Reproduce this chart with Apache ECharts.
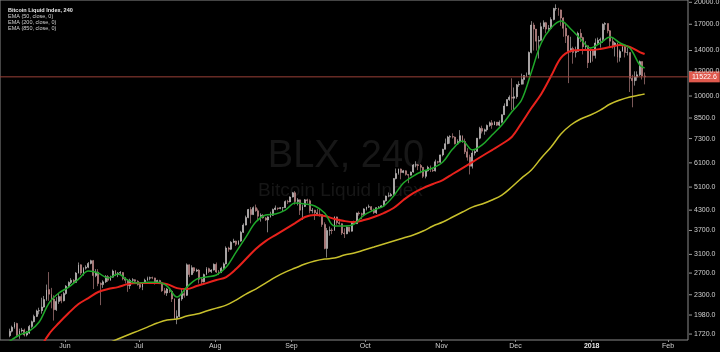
<!DOCTYPE html>
<html><head><meta charset="utf-8">
<script src="https://cdn.jsdelivr.net/npm/echarts@6/dist/echarts.min.js"></script>
<style>html,body{margin:0;padding:0;background:#000}#c{width:720px;height:352px}</style>
</head><body><div id="c"></div>
<script>
// ---- data (Bitcoin Liquid Index, daily candles) ----
const candleStart = '2017-05-09';
const opens = [
 1700,1756,1808,1860,1705,1760,1772,1708,1732,1820,1885,1960,2040,2045,2100,2220,2390,2310,2230,2060,2190,2270,2200,
 2320,2450,2520,2560,2520,2700,2870,2700,2800,2820,2900,2960,2650,2720,2500,2480,2530,2630,2560,2620,2740,2670,2700,2710,2590,2560,2460,2560,2570,2540,
 2480,2430,2500,2560,2600,2610,2605,2500,2555,2510,2370,2330,2400,2360,2230,1930,1960,2230,2320,2290,2870,2670,2810,2740,2760,2580,2530,2670,2790,2730,2760,
 2880,2720,2710,2800,2890,3250,3220,3390,3420,3340,3420,3650,3850,4070,4320,4160,4380,4280,4110,4140,4060,4000,4090,4140,4320,4370,4350,4380,4380,4580,4570,
 4740,4890,4580,4640,4300,4420,4640,4610,4280,4300,4220,4180,4160,3870,3240,3700,3710,3700,4090,3920,3890,3630,3610,3790,3680,3930,3890,4210,4190,4160,
 4340,4400,4410,4310,4220,4380,4400,4440,4610,4770,4780,4830,5430,5640,5830,5680,5750,5600,5570,5700,6000,6010,5980,5900,5520,5750,5900,5780,5750,6150,6130,
 6470,6740,7030,7380,7410,7380,7020,7140,7460,7140,6620,6360,5950,6560,6640,7320,7870,7710,7790,8040,8200,8070,8250,8060,8240,8710,9290,9740,9910,9840,
 9950,10860,10910,11290,11640,11720,13800,16900,16400,15000,15100,16700,17200,16400,16500,17600,19100,19100,18900,17800,16500,15600,13900,14200,13800,13900,15900,15400,14400,14500,12800,
 14100,13500,14800,15100,15200,17000,17100,16200,15000,14500,14800,13300,13900,14400,13800,13800,11400,11200,11500,11700,12900,11600
];
const closes = [
 1756,1808,1860,1705,1760,1772,1708,1732,1820,1885,1960,2040,2045,2100,2220,2390,2310,2230,2060,2190,2270,2200,2320,
 2450,2520,2560,2520,2700,2870,2700,2800,2820,2900,2960,2650,2720,2500,2480,2530,2630,2560,2620,2740,2670,2700,2710,2590,2560,2460,2560,2570,2540,2480,
 2430,2500,2560,2600,2610,2605,2500,2555,2510,2370,2330,2400,2360,2230,1930,1960,2230,2320,2290,2870,2670,2810,2740,2760,2580,2530,2670,2790,2730,2760,2880,
 2720,2710,2800,2890,3250,3220,3390,3420,3340,3420,3650,3850,4070,4320,4160,4380,4280,4110,4140,4060,4000,4090,4140,4320,4370,4350,4380,4380,4580,4570,4740,
 4890,4580,4640,4300,4420,4640,4610,4280,4300,4220,4180,4160,3870,3240,3700,3710,3700,4090,3920,3890,3630,3610,3790,3680,3930,3890,4210,4190,4160,4340,
 4400,4410,4310,4220,4380,4400,4440,4610,4770,4780,4830,5430,5640,5830,5680,5750,5600,5570,5700,6000,6010,5980,5900,5520,5750,5900,5780,5750,6150,6130,6470,
 6740,7030,7380,7410,7380,7020,7140,7460,7140,6620,6360,5950,6560,6640,7320,7870,7710,7790,8040,8200,8070,8250,8060,8240,8710,9290,9740,9910,9840,9950,
 10860,10910,11290,11640,11720,13800,16900,16400,15000,15100,16700,17200,16400,16500,17600,19100,19100,18900,17800,16500,15600,13900,14200,13800,13900,15900,15400,14400,14500,12800,14100,
 13500,14800,15100,15200,17000,17100,16200,15000,14500,14800,13300,13900,14400,13800,13800,11400,11200,11500,11700,12900,11600,11522.6
];
const lows = [
 1680,1740,1790,1680,1660,1740,1690,1690,1720,1800,1875,1950,1990,2000,2090,2200,2200,2080,1900,2040,2150,2160,2190,
 2300,2420,2490,2490,2510,2690,2660,2650,2770,2800,2880,2400,2620,2450,2130,2420,2510,2530,2550,2610,2640,2620,2680,2560,2500,2350,2400,2520,2510,2460,
 2400,2380,2490,2550,2560,2580,2480,2490,2500,2350,2300,2280,2330,2180,1920,1850,1950,2200,2250,2280,2620,2660,2700,2720,2500,2480,2520,2660,2700,2700,2750,
 2700,2660,2700,2780,2880,3160,3200,3370,3300,3320,3400,3630,3840,4050,3900,4150,4250,4000,3950,4040,3970,3650,4070,4120,4300,4300,4330,4270,4370,4500,4560,
 4720,4480,4450,4150,4000,4400,4520,4200,4200,4000,4130,4100,3800,3220,3030,3560,3600,3690,3860,3860,3580,3500,3600,3650,3670,3860,3880,4130,4020,4150,
 4290,4370,4260,4180,4180,4350,4380,4430,4580,4730,4750,4820,5400,5590,5400,5650,5550,5250,5560,5670,5900,5780,5650,5450,5440,5720,5700,5700,5720,6060,6100,
 6400,6740,7000,7030,7300,6990,6980,7080,7070,6510,6200,5600,5850,6440,6630,7260,7580,7510,7690,7960,7850,8060,8020,8000,8170,8700,9280,9650,9000,9050,
 9800,10700,10900,10900,11500,11700,13700,14000,14000,13200,15000,16400,15900,16100,16400,17500,18800,18100,16800,15500,14800,11000,13800,12700,13300,13900,14900,13600,14100,12300,12800,
 12900,13200,14600,14300,14800,16300,15900,14400,14200,13400,12800,12900,13900,13300,13500,10300,9200,10800,11200,11600,11300,10900
];
const highs = [
 1790,1830,1880,1870,1790,1800,1790,1760,1840,1900,1985,2060,2090,2250,2280,2480,2720,2420,2290,2260,2320,2310,2350,
 2470,2540,2600,2580,2720,2920,2880,2820,2860,2930,2980,2975,2780,2780,2520,2560,2660,2660,2650,2770,2760,2720,2740,2720,2620,2580,2590,2600,2580,2560,
 2510,2520,2590,2630,2630,2630,2610,2570,2570,2530,2420,2420,2420,2380,2240,2050,2250,2400,2400,2900,2880,2860,2820,2790,2780,2610,2690,2820,2810,2780,2900,
 2920,2760,2830,2920,3290,3280,3420,3480,3430,3440,3690,3900,4130,4340,4400,4420,4480,4350,4200,4180,4090,4110,4250,4350,4450,4380,4400,4400,4620,4640,4760,
 4920,4950,4700,4650,4480,4670,4680,4660,4370,4310,4340,4340,4170,3930,3770,3810,3760,4110,4100,4030,3900,3760,3810,3800,3960,3980,4220,4260,4220,4360,
 4410,4480,4430,4350,4390,4430,4460,4620,4790,4900,4880,5450,5850,5850,5850,5790,5770,5610,5720,6050,6170,6050,6050,5920,5780,5970,5980,5850,6250,6190,6480,
 6770,7300,7450,7480,7590,7410,7260,7770,7470,7300,6800,6480,6680,6720,7330,7960,8030,7860,8100,8280,8370,8300,8250,8350,8730,9470,9750,10050,11400,10650,
 10930,11150,11800,11650,11900,13900,17400,17200,16400,15600,17200,17500,17300,16900,17900,19200,19700,19200,18950,17900,17200,15700,15500,14400,14400,16100,16400,15500,15000,14500,14200,
 14100,15300,15400,15400,17100,17250,17100,16300,15400,14900,14850,14100,14600,14500,14300,13800,11700,12000,12000,13000,12900,11900
];

// EMA readings, one every 4 days from emaStart, plus the last bar (2018-01-22)
const emaStart = '2017-05-09';
const emaLastDate = '2018-01-22';
const ema50 = [1630,1708,1758,1880,2163,2330,2434,2583,2741,2700,2602,2680,2563,2507,2525,2525,2453,2261,2434,2583,2622,2661,2823,3153,3524,3938,4147,4180,4303,4532,4500,4433,4208,3824,3824,3880,4147,4303,4433,4773,5255,5534,5741,5870,6137,6756,7168,6707,6963,7494,8069,8884,9708,11940,14800,16540,17410,16410,15240,14260,14800,15470,14800,14260,12580,12300];
const ema200 = [null,null,null,1528,1720,1866,2009,2147,2245,2347,2399,2434,2488,2507,2507,2507,2488,2416,2399,2453,2507,2565,2622,2781,2995,3226,3421,3577,3739,3908,4087,4147,4117,4027,3968,3938,3997,4087,4208,4368,4634,4880,5063,5217,5373,5617,5870,6137,6417,6707,7012,7386,8190,9151,10150,11590,13250,13950,14050,14050,14160,14370,14580,14370,13840,13640];
const ema850 = [null,null,null,null,null,null,null,null,null,null,1609,1658,1708,1758,1811,1866,1908,1922,1965,1994,2039,2084,2130,2212,2312,2399,2507,2622,2720,2802,2886,2951,2995,3017,3084,3131,3202,3272,3346,3421,3498,3577,3684,3824,3938,4087,4240,4398,4500,4634,4808,5101,5451,5785,6322,6860,7550,8069,8436,8690,9015,9425,9708,9926,10074,10150];

const yTickValues = [20000,17000,14000,12000,10000,8500,7300,6100,5100,4300,3700,3100,2700,2300,1980,1720];
const monthNames = ['Jan','Feb','Mar','Apr','May','Jun','Jul','Aug','Sep','Oct','Nov','Dec'];
const titleText = 'Bitcoin Liquid Index, 240';
const studyLines = ['EMA (50, close, 0)','EMA (200, close, 0)','EMA (850, close, 0)'];
const watermark = ['BLX, 240','Bitcoin Liquid Index'];
const viewMin = '2017-05-05T14:10:00Z';
const viewMax = '2018-02-09T03:00:00Z';
const yMin = 1646, yMax = 20340;

// ---- build ----
function utcDay(str, addDays, hour) {
  const p = str.split('-').map(Number);
  return Date.UTC(p[0], p[1] - 1, p[2] + addDays, hour || 0);
}
const candleData = closes.map((c, i) => [utcDay(candleStart, i, 12), opens[i], c, lows[i], highs[i]]);
function emaSeriesData(arr) {
  const out = [];
  arr.forEach((v, k) => {
    if (v == null) return;
    const t = (k === arr.length - 1) ? utcDay(emaLastDate, 0, 12) : utcDay(emaStart, k * 4, 12);
    out.push([t, v]);
  });
  return out;
}
const lastPrice = closes[closes.length - 1];
const DAY = 86400000;
const FONT = '"Liberation Sans", Arial, sans-serif';
const tMin = new Date(viewMin).getTime();
const tMax = new Date(viewMax).getTime();

const chart = echarts.init(document.getElementById('c'), null, {renderer: 'canvas'});
chart.setOption({
  animation: false,
  useUTC: true,
  backgroundColor: '#000',
  textStyle: {fontFamily: FONT},
  title: {
    left: 3, top: 2, itemGap: 0,
    text: titleText,
    textStyle: {color: '#e8e8e8', fontSize: 5.5, fontWeight: 'bold', lineHeight: 6, fontFamily: FONT},
    subtext: studyLines.join('\n'),
    subtextStyle: {color: '#d0d0d0', fontSize: 5.5, lineHeight: 6, fontFamily: FONT}
  },
  graphic: [
    {type: 'text', z: -10, silent: true, style: {text: watermark[0], x: 346, y: 157, fill: '#171717', font: '38px ' + FONT, align: 'center', verticalAlign: 'middle'}},
    {type: 'text', z: -10, silent: true, style: {text: watermark[1], x: 258, y: 191, fill: '#161616', font: '19px ' + FONT, align: 'left', verticalAlign: 'middle'}}
  ],
  grid: {left: 0, right: 32, top: 0, bottom: 12, show: true, borderColor: '#8a8a8a', borderWidth: 1, backgroundColor: 'transparent', containLabel: false, outerBoundsMode: 'none'},
  xAxis: {
    type: 'time',
    min: tMin,
    max: tMax,
    splitNumber: 10,
    minInterval: 28 * DAY,
    maxInterval: 31 * DAY,
    axisLine: {show: false},
    axisTick: {show: true, length: 2, lineStyle: {color: '#8a8a8a'}},
    splitLine: {show: false},
    axisLabel: {
      color: '#d0d0d0', fontSize: 7, margin: 3,
      showMinLabel: false, showMaxLabel: false,
      formatter: function (val) {
        const d = new Date(val);
        if (d.getUTCDate() !== 1 || d.getUTCHours() !== 0) return '';
        const m = d.getUTCMonth();
        if (m === 0) return '{yr|' + d.getUTCFullYear() + '}';
        return monthNames[m];
      },
      rich: {yr: {fontWeight: 'bold', color: '#e8e8e8', fontSize: 7, fontFamily: FONT}}
    }
  },
  yAxis: {
    type: 'log', logBase: 10, position: 'right',
    min: yMin, max: yMax,
    axisLine: {show: false}, axisTick: {show: false}, axisLabel: {show: false}, splitLine: {show: false}
  },
  series: [
    {
      type: 'line', name: 'Last price', silent: true, z: 1,
      data: [[tMin, lastPrice], [tMax, lastPrice]],
      showSymbol: false, symbol: 'none',
      lineStyle: {color: '#9a4038', width: 1},
      markLine: {
        silent: true, symbol: ['none', 'none'],
        lineStyle: {color: 'rgba(0,0,0,0)', width: 0},
        label: {
          show: true, position: 'end', distance: 1,
          formatter: lastPrice.toFixed(1),
          backgroundColor: '#e05a4e', color: '#ffffff', padding: [2, 3], fontSize: 7, fontFamily: FONT
        },
        emphasis: {disabled: true},
        data: [{yAxis: lastPrice}]
      }
    },
    {
      type: 'candlestick', name: 'BLX',
      data: candleData,
      encode: {x: 0, y: [1, 2, 3, 4]},
      barWidth: 1.4,
      itemStyle: {color: '#d2cccc', color0: '#cc9494', borderColor: '#d2cccc', borderColor0: '#cc9494', borderWidth: 0.6}
    },
    {
      type: 'line', name: 'EMA 850', data: emaSeriesData(ema850), showSymbol: false, symbol: 'none', smooth: 0.35,
      lineStyle: {color: '#c8c02c', width: 1.5},
      markLine: {
        silent: true, symbol: ['none', 'none'],
        lineStyle: {color: 'rgba(0,0,0,0)', width: 0},
        label: {
          show: true, position: 'end', distance: 1,
          formatter: p => '{t|}{v|' + Number(p.value).toFixed(1) + '}',
          rich: {t: {width: 3, height: 1, backgroundColor: '#9a9a9a'}, v: {padding: [0, 0, 0, 2], fontSize: 7, color: '#d0d0d0', fontFamily: FONT}}
        },
        emphasis: {disabled: true},
        data: yTickValues.map(v => ({yAxis: v}))
      }
    },
    {
      type: 'line', name: 'EMA 200', data: emaSeriesData(ema200), showSymbol: false, symbol: 'none', smooth: 0.35,
      lineStyle: {color: '#e8221c', width: 2}
    },
    {
      type: 'line', name: 'EMA 50', data: emaSeriesData(ema50), showSymbol: false, symbol: 'none', smooth: 0.35,
      lineStyle: {color: '#1fa82a', width: 1.5}
    }
  ]
});
// keep the price label on top of the tick labels
chart.setOption({series: [{name: 'Last price', zlevel: 0, z: 5}]});
</script>
</body></html>
